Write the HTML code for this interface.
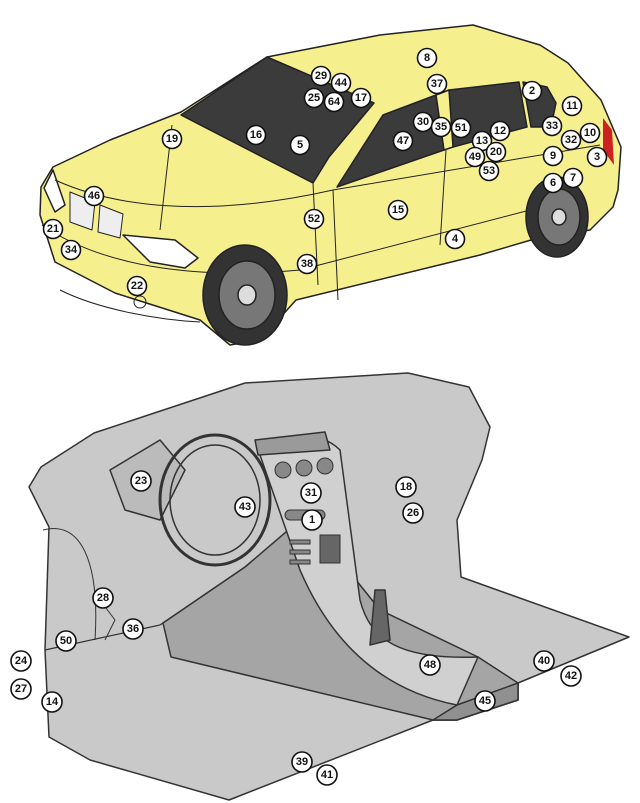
<!DOCTYPE html>
<html><head><meta charset="utf-8"><style>
html,body{margin:0;padding:0;background:#fff;}
svg{display:block}
.n circle{fill:#fff;stroke:#111;stroke-width:1.6}
.n text{font-family:"Liberation Sans",sans-serif;font-weight:bold;font-size:11px;text-anchor:middle;dominant-baseline:central;fill:#111}
</style></head><body>
<svg width="640" height="803" viewBox="0 0 640 803" xmlns="http://www.w3.org/2000/svg">
<g stroke="#222" stroke-width="1.5" stroke-linejoin="round">
<path d="M181,112 L267,57 L380,35 L473,25 L540,45 L568,63 L601,100 L621,147 L618,190 L613,207 L590,230 L531,240 L480,255 L296,300 L260,340 L230,345 L200,320 L115,293 L55,262 L40,215 L41,187 L53,167 L110,140 Z" fill="#f6ef8e"/>
<path d="M181,115 L267,57 L374,103 L329,157 L313,183 Z" fill="#3b3b3b"/>
<path d="M337,187 L383,115 L436,95 L444,150 Z" fill="#3b3b3b"/>
<path d="M449,90 L519,82 L527,127 L453,147 Z" fill="#3b3b3b"/>
<path d="M523,82 L547,87 L556,103 L551,127 L531,127 Z" fill="#3b3b3b"/>
<path d="M436,95 L449,90 L453,147 L444,150 Z" fill="#f6ef8e"/>
<path d="M603,118 L612,130 L614,165 L603,150 Z" fill="#c22" stroke="none"/>
<path d="M44,188 L53,170 L65,205 L55,212 Z" fill="#fff"/>
<path d="M123,235 L175,240 L198,258 L185,268 L150,262 Z" fill="#fff"/>
<path d="M70,192 L95,202 L92,230 L70,222 Z M100,205 L123,214 L120,238 L98,232 Z" fill="#eee" stroke-width="1"/>
<path d="M55,180 C110,205 200,220 333,190 L600,145" fill="none" stroke-width="1"/>
<path d="M42,225 C100,265 190,280 300,270 L530,210" fill="none" stroke-width="1"/>
<path d="M333,190 L338,300 M446,150 L440,245 M60,290 C100,310 160,320 200,322" fill="none" stroke-width="1"/>
<path d="M172,125 L160,230 M313,183 L318,285" fill="none" stroke-width="1"/>
<circle cx="140" cy="302" r="6" fill="none" stroke-width="1"/>
</g>
<g stroke="#222" stroke-width="1.5">
<ellipse cx="245" cy="295" rx="42" ry="50" fill="#333"/>
<ellipse cx="247" cy="295" rx="28" ry="34" fill="#777"/>
<ellipse cx="247" cy="295" rx="9" ry="10" fill="#ddd"/>
<ellipse cx="557" cy="217" rx="31" ry="40" fill="#333"/>
<ellipse cx="559" cy="217" rx="21" ry="28" fill="#777"/>
<ellipse cx="559" cy="217" rx="7" ry="8" fill="#ddd"/>
</g>
<!-- DASHBOARD -->
<g stroke="#333" stroke-width="1.5" stroke-linejoin="round">
<path d="M29,487 L41,467 L94,433 L245,383 L408,373 L469,387 L490,427 L482,460 L457,520 L461,577 L629,637 L518,683 L518,700 L457,720 L433,720 L229,800 L90,760 L49,737 L45,650 L49,527 Z" fill="#c9c9c9"/>
<path d="M245,567 L163,623 L171,657 L433,720 L457,720 L518,700 L518,683 L478,657 L380,610 L340,560 L300,520 Z" fill="#a5a5a5"/>
<path d="M433,720 L457,720 L518,700 L518,683 L457,705 Z" fill="#909090"/>
<path d="M260,455 C280,430 320,430 340,450 L360,600 C370,640 400,660 478,657 L457,705 C380,690 330,640 300,570 Z" fill="#d0d0d0"/>
<path d="M255,440 L325,432 L330,450 L258,455 Z" fill="#9a9a9a"/>
<path d="M110,470 L160,440 L185,470 L160,520 L125,510 Z" fill="#bbb"/>
<path d="M375,590 L385,590 L390,640 L370,645 Z" fill="#666"/>
<path d="M45,650 L160,625 L245,567" fill="none" stroke-width="1.2"/>
<path d="M100,600 L115,620 L105,640 M43,530 C80,520 100,560 95,640" fill="none" stroke-width="1"/>
</g>
<g fill="none" stroke="#333" stroke-width="3">
<ellipse cx="215" cy="500" rx="55" ry="65"/>
<ellipse cx="215" cy="500" rx="45" ry="55" stroke-width="1.5"/>
</g>
<g fill="#888" stroke="#333" stroke-width="1">
<circle cx="283" cy="470" r="8"/><circle cx="304" cy="468" r="8"/><circle cx="325" cy="466" r="8"/>
<rect x="285" y="510" width="40" height="10" rx="5"/>
<rect x="290" y="540" width="20" height="4"/><rect x="290" y="550" width="20" height="4"/><rect x="290" y="560" width="20" height="4"/>
<rect x="320" y="535" width="20" height="28" fill="#666"/>
</g>
<g class="n">
<g transform="translate(427,58)"><circle r="9.5"/><text>8</text></g>
<g transform="translate(321,76)"><circle r="9.5"/><text>29</text></g>
<g transform="translate(341,83)"><circle r="9.5"/><text>44</text></g>
<g transform="translate(437,84)"><circle r="9.5"/><text>37</text></g>
<g transform="translate(314,98)"><circle r="9.5"/><text>25</text></g>
<g transform="translate(334,102)"><circle r="9.5"/><text>64</text></g>
<g transform="translate(361,98)"><circle r="9.5"/><text>17</text></g>
<g transform="translate(532,91)"><circle r="9.5"/><text>2</text></g>
<g transform="translate(572,106)"><circle r="9.5"/><text>11</text></g>
<g transform="translate(172,139)"><circle r="9.5"/><text>19</text></g>
<g transform="translate(256,135)"><circle r="9.5"/><text>16</text></g>
<g transform="translate(300,145)"><circle r="9.5"/><text>5</text></g>
<g transform="translate(423,122)"><circle r="9.5"/><text>30</text></g>
<g transform="translate(441,127)"><circle r="9.5"/><text>35</text></g>
<g transform="translate(461,128)"><circle r="9.5"/><text>51</text></g>
<g transform="translate(403,141)"><circle r="9.5"/><text>47</text></g>
<g transform="translate(482,141)"><circle r="9.5"/><text>13</text></g>
<g transform="translate(500,131)"><circle r="9.5"/><text>12</text></g>
<g transform="translate(552,126)"><circle r="9.5"/><text>33</text></g>
<g transform="translate(571,140)"><circle r="9.5"/><text>32</text></g>
<g transform="translate(590,133)"><circle r="9.5"/><text>10</text></g>
<g transform="translate(496,152)"><circle r="9.5"/><text>20</text></g>
<g transform="translate(475,157)"><circle r="9.5"/><text>49</text></g>
<g transform="translate(489,171)"><circle r="9.5"/><text>53</text></g>
<g transform="translate(553,156)"><circle r="9.5"/><text>9</text></g>
<g transform="translate(597,157)"><circle r="9.5"/><text>3</text></g>
<g transform="translate(553,183)"><circle r="9.5"/><text>6</text></g>
<g transform="translate(573,178)"><circle r="9.5"/><text>7</text></g>
<g transform="translate(94,196)"><circle r="9.5"/><text>46</text></g>
<g transform="translate(314,219)"><circle r="9.5"/><text>52</text></g>
<g transform="translate(398,210)"><circle r="9.5"/><text>15</text></g>
<g transform="translate(53,229)"><circle r="9.5"/><text>21</text></g>
<g transform="translate(71,250)"><circle r="9.5"/><text>34</text></g>
<g transform="translate(455,239)"><circle r="9.5"/><text>4</text></g>
<g transform="translate(307,264)"><circle r="9.5"/><text>38</text></g>
<g transform="translate(137,286)"><circle r="9.5"/><text>22</text></g>
<g transform="translate(141,481)"><circle r="10"/><text>23</text></g>
<g transform="translate(245,507)"><circle r="10"/><text>43</text></g>
<g transform="translate(311,493)"><circle r="10"/><text>31</text></g>
<g transform="translate(312,520)"><circle r="10"/><text>1</text></g>
<g transform="translate(406,487)"><circle r="10"/><text>18</text></g>
<g transform="translate(413,513)"><circle r="10"/><text>26</text></g>
<g transform="translate(103,598)"><circle r="10"/><text>28</text></g>
<g transform="translate(133,629)"><circle r="10"/><text>36</text></g>
<g transform="translate(66,641)"><circle r="10"/><text>50</text></g>
<g transform="translate(21,661)"><circle r="10"/><text>24</text></g>
<g transform="translate(21,689)"><circle r="10"/><text>27</text></g>
<g transform="translate(52,702)"><circle r="10"/><text>14</text></g>
<g transform="translate(430,665)"><circle r="10"/><text>48</text></g>
<g transform="translate(544,661)"><circle r="10"/><text>40</text></g>
<g transform="translate(571,676)"><circle r="10"/><text>42</text></g>
<g transform="translate(485,701)"><circle r="10"/><text>45</text></g>
<g transform="translate(302,762)"><circle r="10"/><text>39</text></g>
<g transform="translate(327,775)"><circle r="10"/><text>41</text></g>
</g>
</svg>
</body></html>
